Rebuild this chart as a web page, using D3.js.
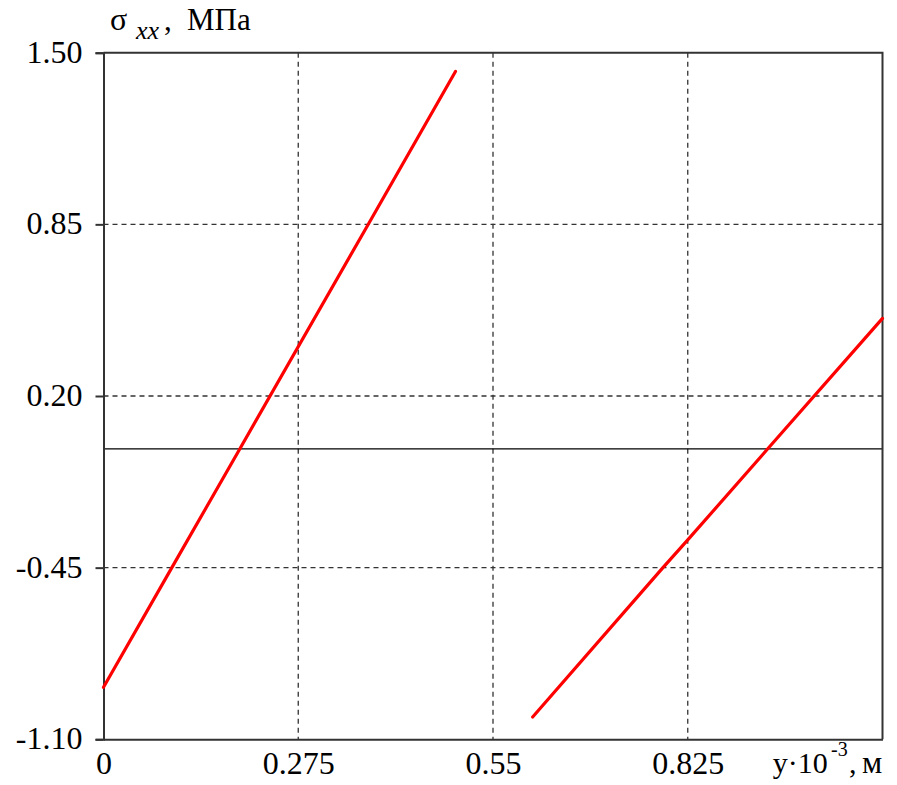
<!DOCTYPE html>
<html>
<head>
<meta charset="utf-8">
<script src="https://cdn.jsdelivr.net/npm/d3@7"></script>
<style>
  html, body { margin: 0; padding: 0; background: #fff; }
  svg { display: block; }
</style>
</head>
<body>
<svg id="chart" width="897" height="785"></svg>
<script>
// Stress σxx along y: two linear branches (y in 10^-3 m, σ in MPa)
const branchA = [
  { y: 0.000, s: -0.903 },
  { y: 0.0963, s: -0.451 },
  { y: 0.190, s: -0.012 },
  { y: 0.3725, s: 0.844 },
  { y: 0.497, s: 1.429 }
];
const branchB = [
  { y: 0.606, s: -1.0155 },
  { y: 0.790, s: -0.450 },
  { y: 0.825, s: -0.345 },
  { y: 0.938, s: 0.000 },
  { y: 1.100, s: 0.494 }
];
const xTicks = [0, 0.275, 0.55, 0.825];
const xTickLabels = ["0", "0.275", "0.55", "0.825"];
const yTicks = [1.50, 0.85, 0.20, -0.45, -1.10];
const yTickLabels = ["1.50", "0.85", "0.20", "-0.45", "-1.10"];

const svg = d3.select("#chart");
const plotL = 103.5, plotR = 882.5, plotT = 52.7, plotB = 739.3;

const x = d3.scaleLinear().domain([0, 1.1]).range([plotL, plotR]);
const y = d3.scaleLinear().domain([-1.1, 1.5]).range([plotB, plotT]);

const serif = "'Liberation Serif', 'Times New Roman', serif";

// dashed grid
const grid = svg.append("g").attr("stroke", "#333").attr("stroke-width", 1.3)
  .attr("stroke-dasharray", "5,4");
grid.selectAll("line.v").data(xTicks.slice(1)).join("line").attr("class", "v")
  .attr("x1", d => x(d)).attr("x2", d => x(d))
  .attr("y1", plotT).attr("y2", plotB);
grid.selectAll("line.h").data(yTicks.slice(1, -1)).join("line").attr("class", "h")
  .attr("x1", plotL).attr("x2", plotR)
  .attr("y1", d => y(d)).attr("y2", d => y(d));

// zero line
svg.append("line").attr("x1", plotL).attr("x2", plotR)
  .attr("y1", y(0)).attr("y2", y(0))
  .attr("stroke", "#000").attr("stroke-width", 1.3);

// frame: top and right borders
svg.append("path")
  .attr("d", `M${plotL},${plotT}H${plotR}V${plotB}`)
  .attr("fill", "none").attr("stroke", "#333").attr("stroke-width", 2);

// y axis (left)
const yAxis = d3.axisLeft(y).tickValues(yTicks)
  .tickFormat((d, i) => yTickLabels[i]).tickSize(8).tickPadding(13);
const gy = svg.append("g").attr("transform", `translate(${plotL},0)`).call(yAxis);
gy.select(".domain").attr("stroke", "#333").attr("stroke-width", 2);
gy.selectAll(".tick line").attr("stroke", "#333").attr("stroke-width", 2);
gy.selectAll(".tick text").attr("font-family", serif).attr("font-size", 32)
  .attr("fill", "#000").attr("dy", "0.3em");

// x axis (bottom)
const xAxis = d3.axisBottom(x).tickValues(xTicks)
  .tickFormat((d, i) => xTickLabels[i]).tickSize(0).tickPadding(12);
const gx = svg.append("g").attr("transform", `translate(0,${plotB})`).call(xAxis);
gx.select(".domain").attr("stroke", "#333").attr("stroke-width", 2);
gx.selectAll(".tick text").attr("font-family", serif).attr("font-size", 32)
  .attr("fill", "#000");

// stress branches
const line = d3.line().x(d => x(d.y)).y(d => y(d.s));
svg.selectAll("path.branch").data([branchA, branchB]).join("path")
  .attr("class", "branch")
  .attr("d", line)
  .attr("fill", "none").attr("stroke", "#f00").attr("stroke-width", 3.2)
  .attr("stroke-linecap", "round");

// axis titles, pieces placed individually
function label(txt, px, py, size, italic) {
  const t = svg.append("text").attr("x", px).attr("y", py)
    .attr("font-family", serif).attr("font-size", size).attr("fill", "#000")
    .text(txt);
  if (italic) t.attr("font-style", "italic");
  return t;
}
// σ_xx, МПа
label("σ", 110, 29.5, 32);
label("xx", 136, 38.5, 26, true);
label(",", 164, 29.5, 31);
label("МПа", 187, 29.5, 31);
// y·10^-3, м
label("y·10", 772.7, 772.5, 30);
label("-3", 831, 756, 20);
label(",", 849, 772.5, 30);
label("м", 862, 772.5, 32);
</script>
</body>
</html>
